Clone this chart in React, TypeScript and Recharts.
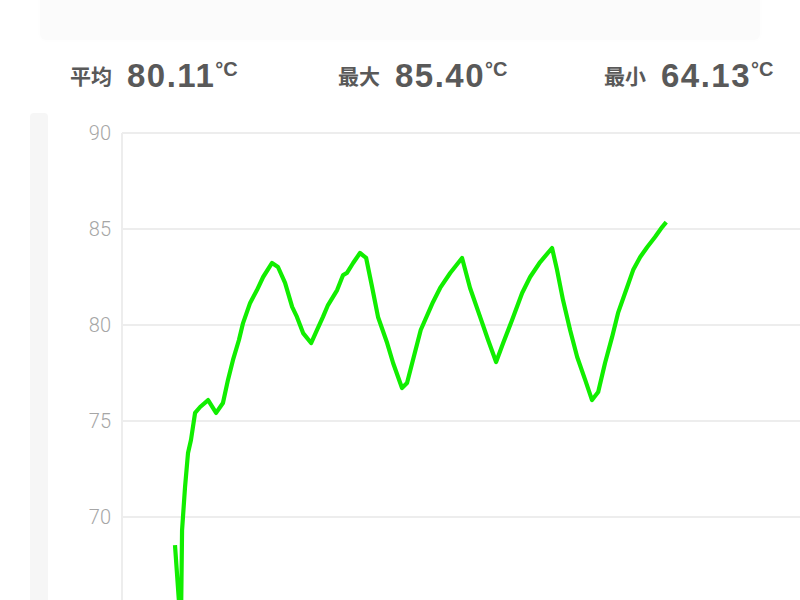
import React from "react";
import {
  LineChart, Line, XAxis, YAxis, CartesianGrid,
} from "recharts";

// sample times (s) and temperatures (°C)
const times = [
  29.2, 31.8, 32.3, 33.6, 34.9, 36.2, 38.0, 40.2, 43.7, 47.2, 50.2, 52.4, 54.6, 57.2,
  59.0, 62.1, 65.1, 67.8, 71.7, 74.3, 77.4, 80.5, 82.6, 85.3, 88.8, 91.4, 94.0, 96.2,
  100.2, 102.8, 104.5, 107.2, 110.2, 112.9, 115.5, 118.1, 122.1, 124.7, 128.6, 130.8,
  133.4, 136.8, 142.2, 145.3, 149.7, 154.9, 158.4, 162.8, 166.3, 169.8, 172.9, 176.8,
  181.2, 184.7, 189.1, 194.3, 196.5, 199.1, 202.2, 205.3, 208.8, 211.8, 214.5, 217.5,
  220.6, 223.2, 227.2, 229.8, 232.9, 236.0, 239.4, 242.5, 244.3,
];
const temps = [
  68.54, 64.13, 69.32, 71.56, 73.33, 74.01, 75.42, 75.73, 76.09, 75.42, 75.94, 77.14, 78.18, 79.22,
  80.10, 81.15, 81.82, 82.50, 83.23, 83.02, 82.19, 80.94, 80.42, 79.58, 79.06, 79.74, 80.42, 81.04,
  81.82, 82.60, 82.71, 83.23, 83.75, 83.49, 81.98, 80.42, 79.06, 78.02, 76.72, 76.98,
  78.18, 79.74, 81.20, 81.93, 82.71, 83.49, 81.93, 80.42, 79.22, 78.07, 79.06, 80.26,
  81.67, 82.50, 83.28, 84.01, 82.86, 81.30, 79.74, 78.33, 77.14, 76.09, 76.51, 78.02,
  79.38, 80.63, 81.98, 82.86, 83.54, 84.06, 84.58, 85.10, 85.36,
];

const yTicks = [70, 75, 80, 85, 90];
const xTicks = [60, 120, 180, 240, 300];

const statLabels = ["平均", "最大", "最小"];
const statValues = ["80.11", "85.40", "64.13"];
const statLeft = [70, 338, 604];

const data = times.map((t, i) => ({ t, v: temps[i] }));

const textFont = '"Liberation Sans", "Noto Sans CJK SC", Arial, sans-serif';

export default function App() {
  return (
    <div
      style={{
        position: "absolute", left: 0, top: 0, width: 800, height: 600,
        overflow: "hidden", background: "#fff", fontFamily: textFont,
      }}
    >
      {/* top card */}
      <div
        style={{
          position: "absolute", left: 40, top: -20, width: 720, height: 60,
          background: "#fbfbfb", borderRadius: 6,
          boxShadow: "0 0 6px rgba(0,0,0,0.015)",
        }}
      />
      {/* left strip of chart card */}
      <div
        style={{
          position: "absolute", left: 30, top: 113, width: 18, height: 500,
          background: "#f6f6f6", borderRadius: "4px 4px 0 0",
        }}
      />

      {statLabels.map((label, i) => (
        <div
          key={label}
          style={{
            position: "absolute", left: statLeft[i], top: 57, height: 40,
            display: "flex", alignItems: "baseline", color: "#595959",
            whiteSpace: "nowrap",
          }}
        >
          <span
            style={{
              fontSize: 21, fontWeight: 700, position: "relative", top: -3,
              fontFamily: '"Noto Sans CJK SC", sans-serif',
            }}
          >
            {label}
          </span>
          <span style={{ fontSize: 33, fontWeight: 700, marginLeft: 15, letterSpacing: 1.5 }}>
            {statValues[i]}
          </span>
          <span style={{ fontSize: 20, fontWeight: 700, position: "relative", top: -11 }}>°C</span>
        </div>
      ))}

      <div style={{ position: "absolute", left: 0, top: 0 }}>
        <LineChart
          width={850}
          height={760}
          data={data}
          margin={{ top: 133, right: 20, left: 0, bottom: 21 }}
        >
          <CartesianGrid stroke="#ededed" strokeWidth={2} />
          <XAxis
            dataKey="t"
            type="number"
            domain={[6, 316]}
            ticks={xTicks}
            tick={false}
            tickLine={false}
            axisLine={false}
            height={30}
            allowDataOverflow
          />
          <YAxis
            domain={[60, 90]}
            ticks={yTicks}
            width={122}
            tickLine={false}
            tickMargin={5}
            axisLine={{ stroke: "#ededed", strokeWidth: 2 }}
            tick={{ fontSize: 20, fill: "#a6a6a6", fontFamily: "Roboto", fontWeight: 300 }}
            allowDataOverflow
          />
          <Line
            type="linear"
            dataKey="v"
            stroke="#11ee00"
            strokeWidth={4.2}
            strokeLinejoin="round"
            dot={false}
            activeDot={false}
            isAnimationActive={false}
          />
        </LineChart>
      </div>
    </div>
  );
}
